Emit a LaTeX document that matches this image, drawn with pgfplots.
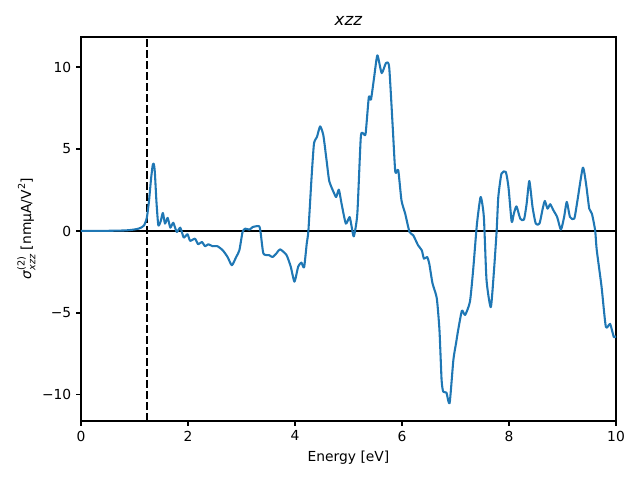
\documentclass[border=0pt]{standalone}
\usepackage{pgfplots}
\pgfplotsset{compat=1.18}
\usepackage{fontspec}
\setmainfont{DejaVu Sans}
\definecolor{mplblue}{HTML}{1F77B4}
\begin{document}
\begin{tikzpicture}
\path[use as bounding box] (-0.81in,-0.59in) rectangle (5.59in,4.21in);
\begin{axis}[
  at={(0,0)}, anchor=south west,
  scale only axis, width=5.35in, height=3.84in,
  xmin=0, xmax=10, ymin=-11.59, ymax=11.83,
  axis line style={line width=0.8pt},
  tick style={line width=0.8pt, black},
  tick align=outside, major tick length=3.5pt,
  xtick={0,2,4,6,8,10},
  ytick={-10,-5,0,5,10},
  yticklabels={−10,−5,0,5,10},
  xtick pos=bottom, ytick pos=left,
  tick label style={font=\fontsize{10}{12}\selectfont},
  /pgf/number format/assume math mode=true,
  xlabel={Energy [eV]},
  ylabel={\textit{σ}\makebox[0pt][l]{\raisebox{0.85ex}{\fontsize{7}{8}\selectfont(2)}}\raisebox{-0.55ex}{\fontsize{7}{8}\selectfont\textit{xzz}} [nm\textmu A/V\raisebox{0.8ex}{\fontsize{7}{8}\selectfont 2}]},
  label style={font=\fontsize{10}{12}\selectfont},
  xlabel style={yshift=0pt},
  ylabel style={yshift=-2pt},
  title={\textit{xzz}},
  title style={font=\fontsize{12}{14}\selectfont, yshift=-1pt},
]
\addplot[black, line width=1.5pt] coordinates {(0,0)(10,0)};
\addplot[black, line width=1.5pt, dash pattern=on 5.55pt off 2.4pt] coordinates {(1.23,-11.59)(1.23,11.83)};
\addplot[mplblue, line width=1.5pt, line join=round, smooth, tension=0.35] coordinates {
(0,0)(0.5,0.01)(0.8,0.03)(0.93,0.06)(1.05,0.12)(1.12,0.2)(1.18,0.35)(1.23,0.8)(1.27,1.8)(1.31,3.2)(1.34,4.0)(1.36,4.1)(1.38,3.6)(1.41,1.8)(1.445,0.35)
(1.49,0.6)(1.53,1.1)(1.57,0.45)(1.62,0.8)(1.67,0.2)(1.725,0.5)(1.79,-0.06)(1.856,0.2)(1.92,-0.4)(1.99,-0.2)(2.04,-0.6)(2.13,-0.47)(2.19,-0.81)(2.26,-0.67)(2.32,-0.93)(2.38,-0.81)(2.46,-0.93)(2.55,-0.93)(2.65,-1.18)(2.74,-1.59)(2.82,-2.09)(2.90,-1.59)(2.96,-1.18)(3.02,-0.06)(3.07,0.14)(3.15,0.08)(3.21,0.24)(3.33,0.29)(3.36,-0.16)(3.41,-1.38)(3.52,-1.48)(3.58,-1.59)(3.66,-1.34)(3.72,-1.12)(3.84,-1.46)(3.92,-2.17)(3.99,-3.09)(4.06,-2.17)(4.12,-1.93)(4.17,-2.22)(4.22,-0.75)(4.25,0)
(4.31,3.29)(4.355,5.33)(4.41,5.73)(4.47,6.38)(4.53,5.83)(4.59,4.31)(4.64,3.05)(4.72,2.38)(4.77,2.07)(4.82,2.52)(4.87,1.67)(4.95,0.45)(5.02,0.85)(5.06,0.24)(5.10,-0.33)(5.165,1.05)(5.23,5.73)(5.28,5.93)(5.32,5.93)(5.38,8.17)(5.42,8.01)(5.48,9.39)(5.54,10.71)(5.62,9.63)(5.70,10.24)(5.76,10.0)(5.83,6.14)(5.875,3.6)(5.93,3.7)(5.99,1.87)(6.06,1.05)(6.14,-0.06)(6.21,-0.26)(6.30,-0.87)(6.37,-1.18)(6.41,-1.69)(6.47,-1.59)(6.51,-2.0)
(6.57,-3.19)(6.65,-4.1)(6.70,-6.04)(6.74,-9.09)(6.77,-9.8)(6.83,-9.86)(6.89,-10.5)(6.96,-7.87)(7.01,-6.85)(7.05,-6.04)(7.12,-4.86)(7.18,-5.12)(7.27,-4.31)(7.33,-2.38)(7.40,0.4)(7.47,2.07)(7.53,0.85)(7.58,-2.99)(7.66,-4.65)(7.72,-2.38)(7.77,0.06)(7.80,2.07)(7.86,3.5)(7.94,3.6)(7.99,2.68)(8.05,0.55)(8.09,1.05)(8.14,1.5)(8.21,0.75)(8.28,0.69)(8.33,1.67)(8.38,3.05)(8.44,1.46)(8.50,0.45)(8.57,0.45)(8.63,1.36)(8.67,1.83)(8.72,1.36)(8.77,1.63)(8.83,1.26)(8.90,0.85)(8.97,0.08)(9.03,0.85)(9.08,1.77)(9.14,0.85)(9.22,0.75)(9.28,1.87)(9.38,3.86)(9.44,2.88)(9.50,1.36)(9.55,1.05)(9.61,0.04)(9.64,-1.16)(9.73,-3.4)(9.81,-5.84)(9.89,-5.67)(9.96,-6.48)(10,-6.4)
};
\end{axis}
\end{tikzpicture}
\end{document}
